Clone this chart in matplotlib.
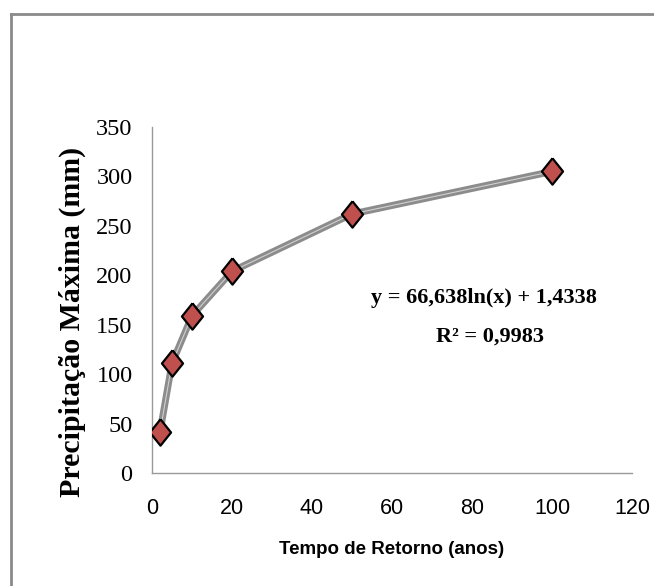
import matplotlib.pyplot as plt
from matplotlib.lines import Line2D

# return period (years) and maximum precipitation (mm)
tempo = [2, 5, 10, 20, 50, 100]
precip = [41.5, 111, 159, 204, 262, 305]

x_ticks = [0, 20, 40, 60, 80, 100, 120]
y_ticks = [0, 50, 100, 150, 200, 250, 300, 350]
equacao = 'y = 66,638ln(x) + 1,4338'
r2 = 'R² = 0,9983'

W, H = 654, 586
fig = plt.figure(figsize=(W / 100, H / 100), dpi=100)
ax = fig.add_axes([152 / W, 1 - 473 / H, 480 / W, 346 / H])

# outer chart border (only top/left visible in the crop)
fig.add_artist(Line2D([11 / W, 1.0], [1 - 14 / H, 1 - 14 / H], color='#8a8a8a', lw=2))
fig.add_artist(Line2D([11 / W, 11 / W], [1 - 14 / H, 0.0], color='#8a8a8a', lw=2))

ax.plot(tempo, precip, color='#8c8c8c', lw=5, solid_capstyle='round', zorder=2)
ax.plot(tempo, precip, color='#d0d0d0', lw=0.8, zorder=2)
diamond = [(0, 1), (0.8, 0), (0, -1), (-0.8, 0), (0, 1)]
ax.plot(tempo, precip, ls='none', marker=diamond, ms=19, mfc='#c0504d',
        mec='black', mew=1.6, zorder=3)

ax.set_xlim(0, 120)
ax.set_ylim(0, 350)
ax.set_xticks(x_ticks)
ax.set_yticks(y_ticks)
ax.tick_params(length=0)
ax.tick_params(axis='x', pad=18)
ax.tick_params(axis='y', pad=14)
for lab in ax.get_xticklabels():
    lab.set_fontfamily('Liberation Sans')
    lab.set_fontsize(15.5)
for lab in ax.get_yticklabels():
    lab.set_fontfamily('Liberation Serif')
    lab.set_fontsize(17.5)

for s in ['top', 'right']:
    ax.spines[s].set_visible(False)
for s in ['left', 'bottom']:
    ax.spines[s].set_color('#9a9a9a')
    ax.spines[s].set_linewidth(1)

fig.text(392 / W, 1 - 549 / H, 'Tempo de Retorno (anos)', ha='center', va='center',
         fontsize=13.5, fontweight='bold', family='Liberation Sans')
fig.text(72 / W, 1 - 322 / H, 'Precipitação Máxima (mm)', ha='center', va='center',
         rotation=90, fontsize=21.5, fontweight='bold', family='Liberation Serif')

fig.text(484 / W, 1 - 298 / H, equacao, ha='center', va='center',
         fontsize=16, fontweight='bold', family='Liberation Serif')
fig.text(490 / W, 1 - 337 / H, r2, ha='center', va='center',
         fontsize=16, fontweight='bold', family='Liberation Serif')

fig.savefig('out.png', dpi=100, facecolor='white')
